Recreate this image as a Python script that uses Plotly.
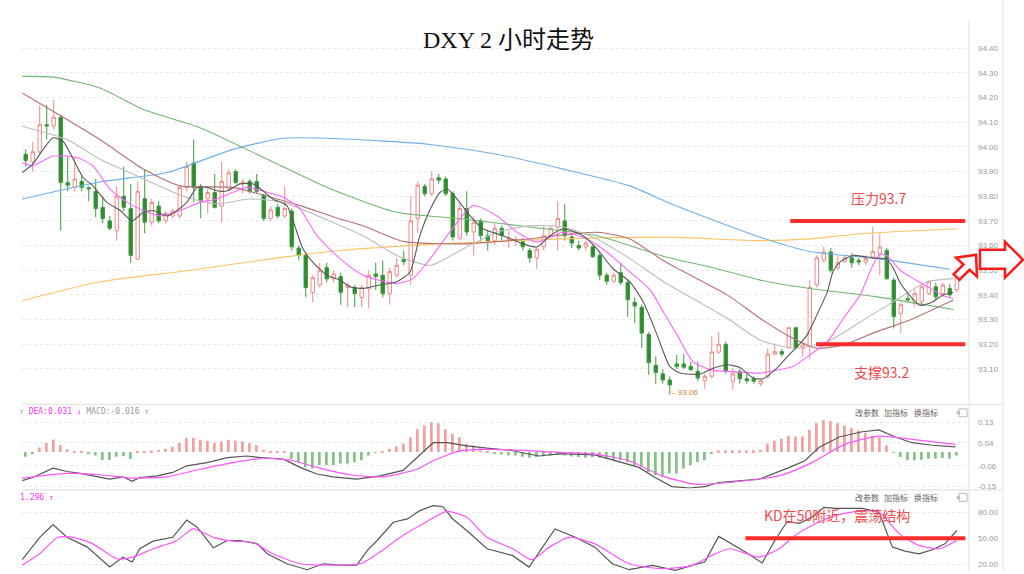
import plotly.graph_objects as go

# ---------------- data ----------------
idx = list(range(134))
opens = [93.97, 93.94, 93.98, 94.09, 94.085, 94.12, 93.855, 93.836, 93.86, 93.835,
         93.82, 93.755, 93.70, 93.66, 93.80, 93.75, 93.545, 93.79, 93.695, 93.76,
         93.70, 93.72, 93.72, 93.835, 93.935, 93.84, 93.79, 93.815, 93.76, 93.83,
         93.90, 93.855, 93.86, 93.86, 93.805, 93.71, 93.755, 93.72, 93.74, 93.59,
         93.56, 93.41, 93.44, 93.51, 93.465, 93.475, 93.43, 93.43, 93.39, 93.425,
         93.485, 93.48, 93.405, 93.48, 93.545, 93.48, 93.71, 93.84, 93.81, 93.875,
         93.87, 93.81, 93.63, 93.75, 93.655, 93.70, 93.64, 93.62, 93.67, 93.625,
         93.62, 93.615, 93.58, 93.55, 93.595, 93.64, 93.675, 93.70, 93.635, 93.60,
         93.595, 93.595, 93.56, 93.48, 93.455, 93.49, 93.45, 93.37, 93.35, 93.24,
         93.115, 93.08, 93.055, 93.12, 93.12, 93.11, 93.09, 93.052, 93.07, 93.168,
         93.20, 93.05, 93.09, 93.06, 93.06, 93.039, 93.07, 93.16, 93.17, 93.187,
         93.267, 93.184, 93.19, 93.44, 93.54, 93.574, 93.51, 93.535, 93.55, 93.54,
         93.533, 93.553, 93.567, 93.58, 93.46, 93.325, 93.385, 93.365, 93.372, 93.405,
         93.433, 93.405, 93.426, 93.42]
closes = [93.945, 93.98, 94.09, 94.085, 94.12, 93.856, 93.845, 93.87, 93.836, 93.83,
          93.75, 93.71, 93.67, 93.80, 93.755, 93.56, 93.82, 93.695, 93.775, 93.70,
          93.73, 93.74, 93.835, 93.92, 93.835, 93.78, 93.815, 93.755, 93.86, 93.895,
          93.856, 93.857, 93.82, 93.82, 93.71, 93.745, 93.72, 93.75, 93.595, 93.56,
          93.43, 93.47, 93.50, 93.465, 93.485, 93.41, 93.44, 93.405, 93.43, 93.48,
          93.475, 93.405, 93.495, 93.52, 93.535, 93.70, 93.845, 93.81, 93.87, 93.865,
          93.81, 93.635, 93.75, 93.655, 93.695, 93.64, 93.62, 93.67, 93.64, 93.63,
          93.625, 93.595, 93.55, 93.585, 93.64, 93.67, 93.71, 93.64, 93.61, 93.59,
          93.61, 93.555, 93.48, 93.455, 93.48, 93.45, 93.38, 93.355, 93.245, 93.125,
          93.085, 93.055, 93.035, 93.11, 93.107, 93.097, 93.063, 93.07, 93.168, 93.20,
          93.09, 93.08, 93.06, 93.052, 93.05, 93.052, 93.16, 93.17, 93.16, 93.267,
          93.187, 93.197, 93.43, 93.55, 93.574, 93.50, 93.53, 93.55, 93.53, 93.533,
          93.547, 93.576, 93.594, 93.466, 93.312, 93.36, 93.38, 93.405, 93.433, 93.453,
          93.392, 93.44, 93.40, 93.48]
highs = [93.99, 94.02, 94.17, 94.17, 94.19, 94.13, 93.96, 93.96, 93.88, 93.84,
         93.87, 93.80, 93.72, 93.84, 93.92, 93.85, 93.86, 93.91, 93.79, 93.78,
         93.74, 93.75, 93.84, 93.94, 94.03, 93.85, 93.83, 93.89, 93.94, 93.91,
         93.91, 93.87, 93.87, 93.89, 93.81, 93.76, 93.77, 93.84, 93.75, 93.60,
         93.57, 93.48, 93.53, 93.53, 93.50, 93.49, 93.45, 93.44, 93.44, 93.50,
         93.53, 93.54, 93.51, 93.55, 93.58, 93.80, 93.86, 93.85, 93.90, 93.89,
         93.88, 93.82, 93.77, 93.82, 93.72, 93.71, 93.66, 93.69, 93.68, 93.66,
         93.64, 93.63, 93.59, 93.59, 93.68, 93.68, 93.78, 93.77, 93.65, 93.62,
         93.62, 93.60, 93.57, 93.49, 93.49, 93.53, 93.46, 93.39, 93.36, 93.25,
         93.15, 93.10, 93.07, 93.157, 93.16, 93.13, 93.13, 93.08, 93.232, 93.25,
         93.21, 93.103, 93.10, 93.08, 93.07, 93.06, 93.184, 93.204, 93.18, 93.27,
         93.27, 93.21, 93.46, 93.56, 93.595, 93.59, 93.56, 93.56, 93.57, 93.55,
         93.56, 93.675, 93.648, 93.59, 93.47, 93.37, 93.40, 93.42, 93.45, 93.46,
         93.45, 93.45, 93.445, 93.50]
lows = [93.92, 93.90, 93.97, 94.03, 94.07, 93.66, 93.82, 93.82, 93.82, 93.78,
        93.715, 93.69, 93.66, 93.62, 93.74, 93.53, 93.54, 93.65, 93.68, 93.69,
        93.69, 93.71, 93.71, 93.82, 93.775, 93.71, 93.73, 93.75, 93.695, 93.82,
        93.85, 93.81, 93.81, 93.81, 93.70, 93.70, 93.71, 93.71, 93.58, 93.54,
        93.39, 93.37, 93.43, 93.45, 93.45, 93.36, 93.35, 93.35, 93.35, 93.345,
        93.42, 93.39, 93.36, 93.47, 93.52, 93.44, 93.65, 93.80, 93.80, 93.85,
        93.80, 93.62, 93.62, 93.64, 93.56, 93.61, 93.58, 93.60, 93.62, 93.59,
        93.60, 93.58, 93.53, 93.505, 93.58, 93.63, 93.58, 93.62, 93.59, 93.58,
        93.58, 93.55, 93.46, 93.44, 93.45, 93.44, 93.31, 93.285, 93.185, 93.075,
        93.04, 93.04, 92.995, 93.10, 93.10, 93.09, 93.05, 93.02, 93.06, 93.16,
        93.08, 93.016, 93.04, 93.04, 93.04, 93.03, 93.06, 93.155, 93.15, 93.18,
        93.18, 93.15, 93.14, 93.43, 93.53, 93.49, 93.50, 93.53, 93.51, 93.52,
        93.52, 93.55, 93.48, 93.46, 93.264, 93.245, 93.37, 93.35, 93.36, 93.40,
        93.38, 93.39, 93.39, 93.41]

# moving averages (candle position, value)
ma5_x = [-0.5, 1.0, 2.5, 3.9, 5.3, 6.8, 8.2, 9.6, 11.6, 13.5, 15.2, 16.8, 18.2, 20.2, 21.6, 23.0,
         24.5, 25.9, 27.3, 28.8, 30.6, 32.5, 33.9, 35.3, 37.3, 38.2, 39.6, 41.0, 43.0, 44.9, 46.3,
         48.2, 50.6, 53.0, 54.9, 56.3, 57.8, 59.2, 60.2, 61.6, 63.5, 65.3, 68.2, 71.0, 73.0, 74.9,
         76.8, 79.6, 81.6, 83.9, 86.3, 88.2, 90.2, 92.0, 93.5, 96.3, 98.2, 100.2, 102.0, 103.9,
         105.3, 107.3, 108.8, 110.2, 111.6, 113.0, 114.5, 115.3, 116.3, 118.2, 121.0, 123.0,
         123.9, 124.9, 125.9, 127.7, 129.6, 131.0, 132.5]
ma5_y = [93.896, 93.93, 93.99, 94.037, 94.024, 93.95, 93.876, 93.842, 93.775, 93.742, 93.70,
         93.735, 93.742, 93.72, 93.742, 93.775, 93.836, 93.836, 93.822, 93.822, 93.85, 93.85,
         93.822, 93.789, 93.762, 93.70, 93.587, 93.533, 93.48, 93.46, 93.433, 93.426, 93.44,
         93.453, 93.493, 93.64, 93.748, 93.816, 93.829, 93.789, 93.72, 93.668, 93.64, 93.607,
         93.594, 93.64, 93.668, 93.64, 93.587, 93.506, 93.453, 93.372, 93.237, 93.11, 93.083,
         93.079, 93.103, 93.117, 93.106, 93.063, 93.06, 93.103, 93.15, 93.19, 93.237, 93.318,
         93.412, 93.493, 93.533, 93.56, 93.55, 93.545, 93.51, 93.45, 93.41, 93.358, 93.372,
         93.40, 93.41]
ma10_x = [-0.5, 1.0, 3.9, 7.3, 9.6, 12.0, 14.5, 16.8, 19.2, 22.0, 24.9, 27.3, 29.6, 31.6, 34.5,
          36.8, 39.2, 41.6, 44.9, 48.2, 53.0, 55.3, 57.8, 60.2, 63.9, 67.3, 70.2, 73.0, 76.8,
          80.2, 83.0, 86.3, 89.2, 91.1, 93.0, 95.3, 97.8, 100.2, 104.9, 106.3, 109.6, 112.0,
          114.5, 116.8, 119.2, 121.0, 122.0, 123.0, 124.9, 126.3, 128.8, 131.0, 132.5]
ma10_y = [93.937, 93.923, 93.963, 93.957, 93.923, 93.83, 93.775, 93.742, 93.72, 93.742, 93.775,
          93.789, 93.816, 93.836, 93.816, 93.796, 93.748, 93.64, 93.547, 93.48, 93.446, 93.466,
          93.547, 93.64, 93.762, 93.72, 93.654, 93.614, 93.654, 93.627, 93.574, 93.493, 93.42,
          93.33, 93.24, 93.13, 93.096, 93.09, 93.083, 93.09, 93.11, 93.157, 93.21, 93.305, 93.40,
          93.52, 93.565, 93.56, 93.50, 93.474, 93.434, 93.398, 93.385]
ma20_x = [-0.5, 5.9, 10.6, 15.3, 22.5, 27.3, 32.0, 36.8, 44.2, 48.2, 53.0, 57.8, 62.5, 67.3,
          72.0, 76.8, 81.6, 86.3, 91.3, 95.3, 100.2, 104.9, 109.6, 114.5, 119.2, 123.9, 128.8, 132.5]
ma20_y = [94.084, 94.03, 93.95, 93.89, 93.80, 93.769, 93.789, 93.775, 93.69, 93.64, 93.56,
          93.52, 93.587, 93.654, 93.68, 93.675, 93.627, 93.547, 93.45, 93.385, 93.305, 93.217,
          93.184, 93.21, 93.29, 93.372, 93.453, 93.466]
ma30_x = [-0.5, 5.9, 10.6, 16.8, 22.0, 29.6, 34.5, 39.2, 44.2, 48.2, 53.9, 62.5, 72.0, 81.6,
          86.3, 91.3, 100.2, 104.9, 109.6, 113.0, 116.8, 121.6, 126.3, 132.5]
ma30_y = [94.219, 94.111, 94.03, 93.91, 93.842, 93.836, 93.80, 93.762, 93.714, 93.68, 93.617,
          93.607, 93.627, 93.654, 93.627, 93.535, 93.40, 93.305, 93.224, 93.184, 93.197, 93.251,
          93.298, 93.379]
ma60_x = [-0.5, 3.9, 10.6, 16.8, 24.9, 34.5, 43.5, 53.0, 62.5, 72.0, 81.6, 91.3, 97.8, 104.9,
          112.0, 121.6, 132.5]
ma60_y = [94.286, 94.283, 94.239, 94.152, 94.078, 93.95, 93.83, 93.735, 93.708, 93.675, 93.64,
          93.555, 93.513, 93.46, 93.426, 93.392, 93.341]
ma120_x = [-0.5, 10.6, 20.2, 29.6, 36.8, 44.9, 57.8, 67.3, 76.8, 86.3, 91.3, 97.8, 104.9, 112.0,
           121.6, 132.0]
ma120_y = [93.789, 93.858, 93.896, 93.99, 94.035, 94.033, 94.01, 93.97, 93.91, 93.842, 93.78,
           93.708, 93.634, 93.576, 93.547, 93.504]
ma250_x = [-0.5, 10.6, 22.5, 36.8, 44.9, 59.2, 76.8, 92.0, 104.9, 112.0, 119.2, 133.0]
ma250_y = [93.376, 93.453, 93.496, 93.553, 93.58, 93.607, 93.627, 93.634, 93.62, 93.627, 93.648,
           93.668]

main_ticks = [93.1, 93.2, 93.3, 93.4, 93.5, 93.6, 93.7, 93.8, 93.9, 94.0, 94.1, 94.2, 94.3, 94.4]
resistance = 93.7
support = 93.2
resistance_span = [109.2, 134.2]
support_span = [112.9, 134.2]
low_mark = "93.06"

# MACD
macd_hist = [-0.02, -0.004, 0.02, 0.04, 0.055, 0.03, 0.012, 0.004, 0.002, -0.004,
             -0.015, -0.035, -0.035, -0.02, -0.018, -0.03, 0.002, 0.002, 0.007, 0.01,
             0.015, 0.022, 0.04, 0.062, 0.062, 0.054, 0.048, 0.04, 0.046, 0.054,
             0.05, 0.046, 0.04, 0.03, 0.01, 0.002, 0.002, 0.002, -0.03, -0.045,
             -0.065, -0.072, -0.058, -0.058, -0.058, -0.05, -0.05, -0.044, -0.036, -0.015,
             -0.002, 0.002, 0.015, 0.025, 0.036, 0.065, 0.1, 0.116, 0.13, 0.126,
             0.1, 0.08, 0.065, 0.036, 0.03, 0.02, 0.002, -0.007, -0.01, -0.015,
             -0.015, -0.02, -0.025, -0.022, -0.018, -0.015, -0.012, -0.015, -0.019, -0.022,
             -0.025, -0.022, -0.025, -0.029, -0.033, -0.036, -0.043, -0.058, -0.065, -0.087,
             -0.101, -0.109, -0.094, -0.094, -0.072, -0.058, -0.043, -0.036, -0.005, 0.008,
             0.008, 0.008, 0.008, 0.008, 0.008, 0.01, 0.036, 0.05, 0.058, 0.072,
             0.068, 0.068, 0.097, 0.126, 0.14, 0.135, 0.126, 0.116, 0.106, 0.094,
             0.083, 0.072, 0.065, 0.029, -0.003, -0.022, -0.036, -0.036, -0.033, -0.029,
             -0.029, -0.026, -0.029, -0.015]
dif_x = [-0.5, 1.0, 3.9, 5.9, 7.8, 10.6, 12.0, 13.9, 15.2, 16.3, 18.8, 21.0, 23.0, 25.9, 28.8,
         31.6, 33.5, 36.8, 39.2, 41.6, 43.9, 47.3, 50.6, 53.9, 55.9, 58.2, 60.2, 63.0, 65.9, 69.2,
         73.3, 76.6, 81.3, 85.2, 87.6, 89.9, 92.3, 94.8, 97.0, 99.0, 104.8, 109.1, 111.3, 113.3,
         116.2, 119.5, 121.9, 124.2, 126.6, 129.5, 132.8]
dif_y = [-0.125, -0.111, -0.07, -0.085, -0.093, -0.108, -0.118, -0.108, -0.128, -0.111, -0.104,
         -0.089, -0.06, -0.046, -0.024, -0.017, -0.024, -0.031, -0.067, -0.096, -0.108, -0.118,
         -0.104, -0.08, -0.024, 0.041, 0.041, 0.027, 0.017, 0.008, -0.017, -0.007, -0.012, -0.046,
         -0.067, -0.111, -0.151, -0.157, -0.151, -0.133, -0.118, -0.067, -0.038, 0.02, 0.066,
         0.089, 0.097, 0.066, 0.041, 0.03, 0.023]
dea_x = [-0.5, 5.9, 10.6, 15.3, 20.2, 24.9, 29.6, 34.5, 38.2, 41.6, 46.3, 51.0, 55.9, 58.2, 62.0,
         65.3, 69.5, 76.6, 81.3, 86.2, 90.9, 95.6, 100.5, 107.6, 112.3, 117.0, 121.9, 126.6, 132.8]
dea_y = [-0.114, -0.093, -0.099, -0.114, -0.108, -0.075, -0.046, -0.027, -0.038, -0.067, -0.099,
         -0.108, -0.075, -0.038, 0.005, 0.012, 0.01, -0.002, -0.009, -0.038, -0.104, -0.14, -0.133,
         -0.104, -0.046, 0.034, 0.07, 0.056, 0.034]
macd_ticks = [0.13, 0.04, -0.06, -0.15]

# KD
k_x = [-0.5, 2.0, 3.9, 5.9, 8.8, 12.0, 13.9, 15.2, 16.3, 18.2, 21.0, 23.0, 24.5, 26.8, 28.8,
       30.6, 33.1, 34.5, 37.3, 40.2, 42.5, 44.9, 47.3, 48.8, 50.2, 52.5, 54.5, 56.3, 58.2, 59.6,
       61.0, 63.0, 65.9, 67.8, 69.5, 71.9, 75.6, 78.5, 81.3, 83.8, 86.2, 89.5, 92.8, 95.2, 97.0,
       99.0, 100.9, 102.8, 105.2, 107.0, 108.8, 110.5, 112.3, 114.0, 115.6, 119.5, 121.9, 123.8,
       125.6, 127.6, 129.5, 131.3, 133.0]
k_y = [25, 51, 65.8, 51, 39.6, 16.5, 28, 22.3, 37.7, 46.5, 51, 71, 62.7, 38.8, 47.3, 47.3, 43.4,
       31.9, 20.3, 13.4, 20.3, 18.8, 18.8, 35.8, 47.3, 68.5, 72.3, 82, 87.7, 86.5, 72.3, 58.9,
       37.7, 33.9, 30, 16.5, 60.8, 51, 39.6, 20.3, 13.4, 18.5, 12.7, 18.5, 22.3, 52, 43.4, 33.9,
       21.2, 47.3, 69.6, 67.3, 74.2, 85.8, 84.6, 84.6, 80, 39.6, 35, 31.9, 36.5, 43.4, 58.9]
d_x = [-0.5, 2.0, 4.6, 6.8, 9.6, 13.0, 15.3, 18.2, 21.6, 23.9, 26.8, 29.6, 32.5, 35.3, 39.2,
       42.0, 47.8, 50.6, 53.5, 56.3, 60.2, 63.0, 65.9, 69.5, 72.3, 74.8, 77.6, 81.3, 86.2, 90.9,
       95.2, 98.0, 100.5, 104.8, 107.6, 109.9, 112.3, 115.6, 119.5, 121.9, 124.8, 127.6, 130.5,
       133.0]
d_y = [18.5, 31.9, 51, 51, 43.4, 26.1, 28, 37.7, 47.3, 60.8, 51, 46.5, 45, 31.9, 20.3, 18.8,
       20.3, 33.9, 51, 64.6, 81.1, 74.2, 51, 38, 25, 39.6, 51, 43.4, 20.3, 14.6, 18.5, 30, 37.7,
       28.1, 37.7, 53.1, 64.6, 76.2, 82, 80, 55, 41.6, 37.7, 47.3]
kd_ticks = [80, 50, 20]
kd_level = 50
kd_span = [102.8, 134.2]

# ---------------- figure ----------------
W, H = 1024, 574
L, R, T, B = 22, 56, 20, 0


def px(x):
    return (x - L) / (W - L - R)


def py(y):
    return (H - B - y) / (H - T - B)


fig = go.Figure()

fig.add_trace(go.Candlestick(
    x=idx, open=opens, high=highs, low=lows, close=closes,
    increasing=dict(line=dict(color='#f08a8a', width=1), fillcolor='#ffffff'),
    decreasing=dict(line=dict(color='#3f9a3f', width=1), fillcolor='#2e8b2e'),
    whiskerwidth=0, xaxis='x', yaxis='y', showlegend=False, hoverinfo='skip'))

ma_specs = [
    (ma250_x, ma250_y, '#ffc466'),
    (ma120_x, ma120_y, '#6fb0ea'),
    (ma60_x, ma60_y, '#72b872'),
    (ma30_x, ma30_y, '#b87272'),
    (ma20_x, ma20_y, '#bdbdbd'),
    (ma10_x, ma10_y, '#ff66ff'),
    (ma5_x, ma5_y, '#5a5a5a'),
]
for xs, ys, col in ma_specs:
    fig.add_trace(go.Scatter(x=xs, y=ys, mode='lines', line=dict(color=col, width=1.1, shape='spline', smoothing=0.6),
                             xaxis='x', yaxis='y', showlegend=False, hoverinfo='skip'))

bar_cols = ['#f2a0a0' if v >= 0 else '#86c286' for v in macd_hist]
fig.add_trace(go.Bar(x=idx, y=macd_hist, marker=dict(color=bar_cols, line=dict(width=0)), width=0.28,
                     xaxis='x2', yaxis='y2', showlegend=False, hoverinfo='skip'))
fig.add_trace(go.Scatter(x=dif_x, y=dif_y, mode='lines', line=dict(color='#555555', width=1.2),
                         xaxis='x2', yaxis='y2', showlegend=False, hoverinfo='skip'))
fig.add_trace(go.Scatter(x=dea_x, y=dea_y, mode='lines', line=dict(color='#ff55ff', width=1.2, shape='spline', smoothing=0.6),
                         xaxis='x2', yaxis='y2', showlegend=False, hoverinfo='skip'))

fig.add_trace(go.Scatter(x=k_x, y=k_y, mode='lines', line=dict(color='#555555', width=1.2),
                         xaxis='x3', yaxis='y3', showlegend=False, hoverinfo='skip'))
fig.add_trace(go.Scatter(x=d_x, y=d_y, mode='lines', line=dict(color='#ff55ff', width=1.2, shape='spline', smoothing=0.6),
                         xaxis='x3', yaxis='y3', showlegend=False, hoverinfo='skip'))

xr = [-0.53, 134.6]
axfont = dict(size=8, color='#9a9a9a', family='Liberation Sans')
common_y = dict(side='right', showline=False, zeroline=False, showgrid=True, gridcolor='#e8e8e8',
                griddash='dot', gridwidth=1, tickfont=axfont, ticks='', ticklabelstandoff=9, fixedrange=True)

fig.update_layout(
    width=W, height=H, margin=dict(l=L, r=R, t=T, b=B),
    paper_bgcolor='white', plot_bgcolor='white', showlegend=False, hovermode=False,
    xaxis=dict(domain=[0, 1], range=xr, anchor='y', visible=False, rangeslider=dict(visible=False)),
    xaxis2=dict(domain=[0, 1], range=xr, anchor='y2', visible=False),
    xaxis3=dict(domain=[0, 1], range=xr, anchor='y3', visible=False),
    yaxis=dict(domain=[py(406), 1], range=[92.958, 94.5145], tickvals=main_ticks,
               ticktext=[f'{v:.2f}' for v in main_ticks], **common_y),
    yaxis2=dict(domain=[py(491), py(408)], range=[-0.159, 0.202], tickvals=macd_ticks,
                ticktext=[f'{v:.2f}' for v in macd_ticks], **common_y),
    yaxis3=dict(domain=[0, py(493)], range=[11.9, 105.4], tickvals=kd_ticks,
                ticktext=[f'{v:.2f}' for v in kd_ticks], **common_y),
)

shapes = []
# panel frame lines
shapes.append(dict(type='line', xref='paper', yref='paper', x0=px(969), x1=px(969), y0=0, y1=1,
                   line=dict(color='#e2e2e2', width=1)))
shapes.append(dict(type='line', xref='paper', yref='paper', x0=px(1003), x1=px(1003), y0=0, y1=py(0),
                   line=dict(color='#e2e2e2', width=1)))
for yy in (406.5, 492.5):
    shapes.append(dict(type='line', xref='paper', yref='paper', x0=0, x1=px(1003), y0=py(yy), y1=py(yy),
                       line=dict(color='#e6e6e6', width=1.5)))
# support / resistance
shapes.append(dict(type='line', xref='x', yref='y', x0=resistance_span[0], x1=resistance_span[1],
                   y0=resistance, y1=resistance, line=dict(color='#ff2d2d', width=4)))
shapes.append(dict(type='line', xref='x', yref='y', x0=support_span[0], x1=support_span[1],
                   y0=support, y1=support, line=dict(color='#ff2d2d', width=4)))
shapes.append(dict(type='line', xref='x3', yref='y3', x0=kd_span[0], x1=kd_span[1],
                   y0=kd_level, y1=kd_level, line=dict(color='#ff2d2d', width=4)))


def poly(pts):
    s = 'M ' + ' L '.join(f'{px(a):.5f},{py(b):.5f}' for a, b in pts) + ' Z'
    return s


ne_arrow = [(976, 256), (956, 259), (963.5, 265.8), (953.6, 275.7), (959.6, 281.1), (969.5, 271.2), (977, 278)]
r_arrow = [(980, 251), (1005, 251), (1005, 243), (1023, 261), (1005, 279), (1005, 270), (980, 270)]
for pts in (ne_arrow, r_arrow):
    shapes.append(dict(type='path', xref='paper', yref='paper', path=poly(pts),
                       line=dict(color='#ff1a1a', width=2.5), fillcolor='white'))
# close boxes
for yy in (415, 500):
    shapes.append(dict(type='rect', xref='paper', yref='paper', x0=px(959), x1=px(967), y0=py(yy + 4), y1=py(yy - 4),
                       line=dict(color='#bbbbbb', width=1), fillcolor='rgba(0,0,0,0)'))
fig.update_layout(shapes=shapes)

cjk = 'Noto Sans CJK SC'
ann = []
ann.append(dict(text='DXY 2 小时走势', xref='paper', yref='paper', x=px(508), y=py(40), showarrow=False,
                yanchor='middle', xanchor='center',
                font=dict(size=24, color='#111111', family='Liberation Serif, ' + cjk)))
red = '#f24a4a'
ann.append(dict(text='压力93.7', xref='x', yref='y', x=121.8, y=93.793, showarrow=False, yanchor='middle',
                font=dict(size=14, color=red, family=cjk)))
ann.append(dict(text='支撑93.2', xref='x', yref='y', x=122.2, y=93.087, showarrow=False, yanchor='middle',
                font=dict(size=14, color=red, family=cjk)))
ann.append(dict(text='KD在50附近，震荡结构', xref='x3', yref='y3', x=115.9, y=76.5, showarrow=False,
                yanchor='middle', font=dict(size=14, color=red, family=cjk)))
ann.append(dict(text='←' + low_mark, xref='x', yref='y', x=94.1, y=93.005, showarrow=False, yanchor='middle',
                font=dict(size=8, color='#e07a30', family='Liberation Sans')))
ann.append(dict(text='<span style="color:#999999">↑</span> <span style="color:#ff33ff">DEA:0.031 ↓</span> '
                     '<span style="color:#999999">MACD:-0.016 ↑</span>',
                xref='paper', yref='paper', x=px(17), y=py(414), xanchor='left', yanchor='middle',
                showarrow=False, font=dict(size=8, family='DejaVu Sans Mono')))
ann.append(dict(text='1.296 ↑', xref='paper', yref='paper', x=px(18), y=py(500), xanchor='left',
                yanchor='middle', showarrow=False, font=dict(size=8, color='#ff33ff', family='DejaVu Sans Mono')))
for yy in (415, 500):
    for cx, t in ((881, '改参数'), (910, '加指标'), (940, '换指标')):
        ann.append(dict(text=t, xref='paper', yref='paper', x=px(cx), y=py(yy), showarrow=False,
                        yanchor='middle', font=dict(size=8, color='#666666', family=cjk)))
    ann.append(dict(text='×', xref='paper', yref='paper', x=px(963), y=py(yy), showarrow=False,
                    yanchor='middle', font=dict(size=8, color='#888888', family='Liberation Sans')))
fig.update_layout(annotations=ann)

fig.write_html("out.html", config={'displayModeBar': False},
               post_script="document.body.style.margin='0';document.body.style.overflow='hidden';")
